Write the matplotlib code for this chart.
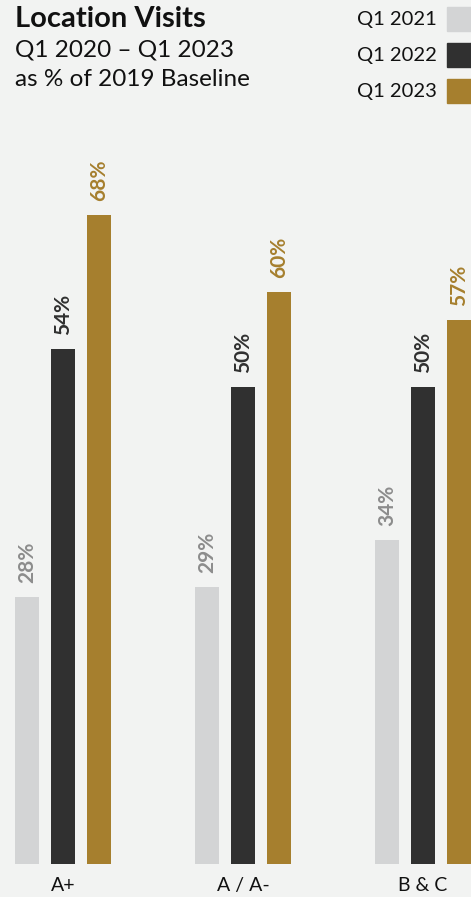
import matplotlib.pyplot as plt
import numpy as np

# data
categories = ['A+', 'A / A-', 'B & C']
series = ['Q1 2021', 'Q1 2022', 'Q1 2023']
q1_2021 = [28, 29, 34]
q1_2022 = [54, 50, 50]
q1_2023 = [68, 60, 57]

bar_colors = ['#D3D4D5', '#303030', '#A67F2E']
label_colors = ['#8C8C8C', '#303030', '#A67F2E']
bg = '#F2F3F2'

plt.rcParams['font.family'] = ['Lato', 'DejaVu Sans']

fig = plt.figure(figsize=(4.71, 8.97), dpi=100, facecolor=bg)
ax = fig.add_axes([0, 33 / 897, 1, 864 / 897])
ax.set_facecolor(bg)

x = np.arange(len(categories))
offsets = [-0.2, 0.0, 0.2]
width = 24 / 180

for vals, off, c, lc in zip([q1_2021, q1_2022, q1_2023], offsets, bar_colors, label_colors):
    bars = ax.bar(x + off, vals, width=width, color=c)
    for b, v in zip(bars, vals):
        ax.annotate(f'{v}%', (b.get_x() + b.get_width() / 2, v),
                    xytext=(0, 10), textcoords='offset points',
                    rotation=90, ha='center', va='bottom',
                    fontsize=15, fontweight='bold', color=lc)

ax.set_xlim(-63 / 180, (471 - 63) / 180)
ax.set_ylim(0, 864 / 9.54)
ax.axis('off')

# category labels
for xi, cat in zip(x, categories):
    ax.annotate(cat, (xi, 0), xytext=(0, -9), textcoords='offset points',
                ha='center', va='top', fontsize=14, color='#111111')

# title block
fig.text(15 / 471, 1 - 6 / 897, 'Location Visits', ha='left', va='top',
         fontsize=21, fontweight='bold', color='#111111')
fig.text(15 / 471, 1 - 40 / 897, 'Q1 2020 \u2013 Q1 2023', ha='left', va='top',
         fontsize=17.5, color='#111111')
fig.text(15 / 471, 1 - 69 / 897, 'as % of 2019 Baseline', ha='left', va='top',
         fontsize=17.5, color='#111111')

# legend
for i, (name, c) in enumerate(zip(series, bar_colors)):
    yc = 19 + 36 * i
    fig.patches.append(plt.Rectangle((447 / 471, 1 - (yc + 12) / 897), 24 / 471, 24 / 897,
                                     transform=fig.transFigure, color=c))
    fig.text(437 / 471, 1 - yc / 897, name, ha='right', va='center',
             fontsize=14.5, color='#111111')

fig.savefig('out.png', dpi=100, facecolor=bg)
